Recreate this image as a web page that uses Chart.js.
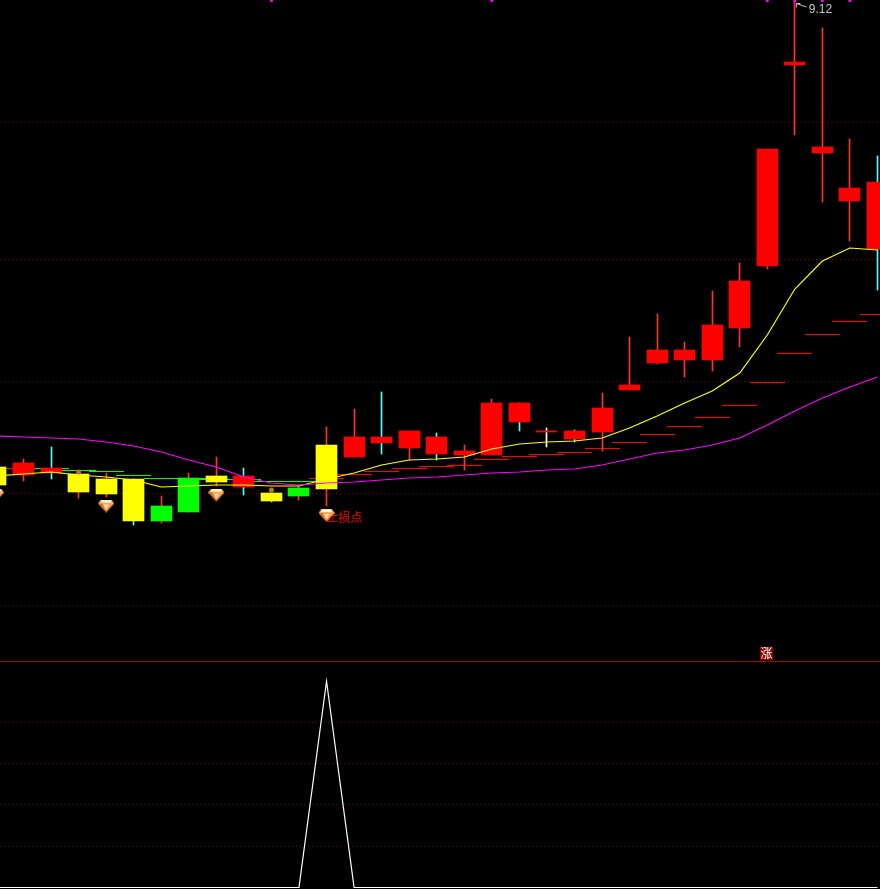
<!DOCTYPE html>
<html><head><meta charset="utf-8">
<style>
html,body{margin:0;padding:0;background:#000;overflow:hidden}
canvas{display:block}
#lower{border-top:1px solid #a00a0a;width:880px;height:227px}
</style>
<script src="https://cdn.jsdelivr.net/npm/chart.js@4/dist/chart.umd.js"></script>
</head><body>
<canvas id="main" width="880" height="661"></canvas>
<div id="lower"><canvas id="sub" width="880" height="227"></canvas></div>
<script>
const days=[0,1,2,3,4,5,6,7,8,9,10,11,12,13,14,15,16,17,18,19,20,21,22,23,24,25,26,27,28,29,30,31,32];
const bodyTop=[4.46,4.50,4.45,4.39,4.34,4.34,4.07,4.35,4.37,4.37,4.20,4.25,4.68,4.76,4.76,4.82,4.76,4.62,5.10,5.10,4.82,4.82,5.05,5.28,5.63,5.63,5.88,6.32,7.64,8.51,7.66,7.25,7.31];
const bodyBottom=[4.28,4.38,4.40,4.21,4.19,3.92,3.92,4.01,4.31,4.26,4.12,4.17,4.24,4.56,4.70,4.65,4.59,4.58,4.58,4.91,4.81,4.74,4.81,5.23,5.50,5.53,5.53,5.85,6.47,8.48,7.60,7.12,6.64];
const wickHigh=[4.46,4.54,4.66,4.39,4.40,4.34,4.17,4.40,4.56,4.45,4.20,4.28,4.86,5.04,5.21,4.82,4.80,4.68,5.14,5.10,4.85,4.83,5.20,5.76,5.99,5.71,6.22,6.50,7.64,9.12,8.85,7.74,7.57];
const wickLow=[4.28,4.32,4.34,4.15,4.16,3.88,3.90,4.01,4.27,4.18,4.11,4.13,4.07,4.56,4.59,4.53,4.53,4.43,4.58,4.82,4.66,4.71,4.62,5.23,5.49,5.36,5.42,5.66,6.44,7.78,7.11,6.72,6.23];
const bodyKind="yrryyyggyrygyrrrrrrrrrrrrrrrrrrrr".split("");
const wickKind="rrcrrcrrrccrrrcrcrrcwcrrrrrrrrrrc".split("");
const stepLine=[null,4.45,4.45,4.43,4.42,4.38,4.35,4.35,4.34,4.34,4.32,4.32,4.35,4.39,4.42,4.45,4.47,4.48,4.54,4.57,4.59,4.61,4.65,4.71,4.79,4.87,4.96,5.08,5.31,5.60,5.79,5.92,5.99];
const stepKind="rrggggggggggrrrrrrrrrrrrrrrrrrrrr".split("");
const yellowLine=[4.37,4.39,4.41,4.38,4.36,4.33,4.26,4.27,4.28,4.28,4.27,4.27,4.34,4.40,4.48,4.53,4.54,4.56,4.64,4.69,4.71,4.72,4.75,4.85,4.97,5.10,5.22,5.40,5.78,6.24,6.52,6.65,6.63];
const magentaLine=[4.77,4.76,4.75,4.74,4.71,4.67,4.61,4.53,4.46,4.36,4.30,4.28,4.30,4.31,4.33,4.35,4.36,4.38,4.40,4.41,4.43,4.44,4.48,4.54,4.60,4.63,4.68,4.75,4.88,5.02,5.15,5.26,5.36];
const signal=[0,0,0,0,0,0,0,0,0,0,0,0,1,0,0,0,0,0,0,0,0,0,0,0,0,0,0,0,0,0,0,0,0];
const topMarkDays=[10,18,28,29,30,31];
const gemDays=[0,4,8,12];
const gemValues=[4.18,4.07,4.18,3.975];
const glowDays=[3,10];
const glowValues=[4.41,4.23];
const mainTicks=[7.91,6.54,5.32,4.20,3.08];
const subTicks=[0.2,0.4,0.6,0.8];
const stopLabel="止损点";
const highLabel="9.12";
const riseLabel="涨";

const palette={r:"#ff0000",y:"#ffff00",g:"#00ff00"};
const wickPalette={r:"#ff3232",c:"#54fcfc",w:"#ffffff"};
const gridColor="#800000";
const xRange={min:0.147,max:32.091};

const gem=document.createElement("canvas");gem.width=16;gem.height=13;
(function(){const c=gem.getContext("2d");
 c.beginPath();c.moveTo(3,0);c.lineTo(13,0);c.lineTo(16,4);c.lineTo(8,13);c.lineTo(0,4);c.closePath();
 const g=c.createLinearGradient(0,0,0,13);g.addColorStop(0,"#ffe4b8");g.addColorStop(.3,"#f6a860");g.addColorStop(1,"#e87018");
 c.fillStyle=g;c.fill();
 c.fillStyle="#fff3dc";c.fillRect(3,1,10,2);
 c.fillStyle="#ffd9a8";c.beginPath();c.moveTo(5,5);c.lineTo(11,5);c.lineTo(8,11);c.closePath();c.fill();
 c.fillStyle="#d9640f";c.beginPath();c.moveTo(1,4);c.lineTo(4,4);c.lineTo(7,10);c.closePath();c.fill();
})();

const pts=a=>a.map((v,i)=>({x:days[i],y:v}));
const snap={id:"snap",afterDatasetsUpdate(ch){
 ch.data.datasets.forEach((d,n)=>{
  const m=ch.getDatasetMeta(n);
  if(m.type==="bar")m.data.forEach(e=>{e.x=Math.floor(e.x)+.5;e.y=Math.round(e.y);e.base=Math.round(e.base);});
  if(d.snapStep)m.data.forEach(e=>{e.x=Math.floor(e.x)+.5;e.y=Math.round(e.y)+.5;});
 });
}};
const texts={id:"texts",beforeDatasetsDraw(ch){
 const c=ch.ctx,x=ch.scales.x,y=ch.scales.y;c.save();
 c.textBaseline="middle";c.textAlign="left";
 c.fillStyle="#ff0000";c.font='12px "Noto Sans CJK SC"';
 c.fillText(stopLabel,x.getPixelForValue(12),y.getPixelForValue(3.955));
 const bx=x.getPixelForValue(28)-7.5,by=y.getPixelForValue(2.66);
 c.fillStyle="#8b0000";c.fillRect(Math.round(bx),Math.round(by),13,13);
 c.fillStyle="#ffffff";c.textAlign="center";c.font='12px "Noto Sans CJK SC"';
 c.fillText(riseLabel,Math.round(bx)+6.5,Math.round(by)+6.5);
 c.restore();
},afterDatasetsDraw(ch){
 const c=ch.ctx,x=ch.scales.x,y=ch.scales.y;c.save();
 const hx=x.getPixelForValue(29),hy=y.getPixelForValue(9.12);
 c.strokeStyle="#c8c8c8";c.lineWidth=1;
 c.beginPath();c.moveTo(hx+1.5,hy+2.5);c.lineTo(hx+11.5,hy+6);
 c.moveTo(hx+1.5,hy+2.5);c.lineTo(hx+5.5,hy+2.5);c.moveTo(hx+1.5,hy+2.5);c.lineTo(hx+1.5,hy+6.5);c.stroke();
 c.fillStyle="#c8c8c8";c.font='12px "Liberation Sans"';c.textAlign="left";c.textBaseline="alphabetic";
 c.fillText(highLabel,hx+14,hy+12);
 c.restore();
}};
const hiddenX=Object.assign({type:"linear",display:false,offset:false,grid:{display:false,offset:false}},xRange);
const yScale=(min,max,tickList)=>({type:"linear",min,max,position:"left",
 afterBuildTicks(s){s.ticks=tickList.map(v=>({value:v}));},
 afterFit(s){s.width=0;},
 ticks:{display:false},border:{display:false,dash:[1,3]},
 grid:{color:gridColor,lineWidth:1,drawTicks:false}});
const common={responsive:false,animation:false,events:[],devicePixelRatio:1,
 layout:{padding:0,autoPadding:false},plugins:{legend:{display:false},tooltip:{enabled:false}}};

new Chart(document.getElementById("main"),{type:"bar",
 data:{datasets:[
  {type:"line",label:"step",snapStep:true,order:10,showLine:false,data:pts(stepLine),pointStyle:"line",pointRadius:17.5,pointBorderWidth:1,
   pointBorderColor:stepKind.map(k=>palette[k])},
  {label:"wick",order:9,grouped:false,barThickness:1,data:days.map((d,i)=>({x:d,y:[wickLow[i],wickHigh[i]]})),backgroundColor:wickKind.map(k=>wickPalette[k])},
  {label:"body",order:8,grouped:false,barThickness:21,data:days.map((d,i)=>({x:d,y:[bodyBottom[i],bodyTop[i]]})),backgroundColor:bodyKind.map(k=>palette[k])},
  {type:"line",label:"yellow",order:4,data:pts(yellowLine),borderColor:"#ffff00",borderWidth:1.2,pointRadius:0,tension:0},
  {type:"line",label:"magenta",order:3,data:pts(magentaLine),borderColor:"#ff00ff",borderWidth:1.2,pointRadius:0,tension:0},
  {type:"line",label:"top",order:2,showLine:false,data:topMarkDays.map(d=>({x:d,y:9.125})),pointStyle:"rect",pointRadius:2,pointBorderWidth:0,pointBackgroundColor:"#ff00ff"},
  {type:"line",label:"glow",order:2,showLine:false,data:glowDays.map((d,i)=>({x:d,y:glowValues[i]})),pointStyle:"circle",pointRadius:2.5,pointBorderWidth:0,pointBackgroundColor:"#b87428"},
  {type:"line",label:"gem",order:1,showLine:false,data:gemDays.map((d,i)=>({x:d,y:gemValues[i]})),pointStyle:gem,pointRadius:8}
 ]},
 options:Object.assign({},common,{scales:{x:hiddenX,y:yScale(2.52,9.13,mainTicks)}}),
 plugins:[snap,texts]});

new Chart(document.getElementById("sub"),{type:"line",
 data:{datasets:[{label:"signal",data:pts(signal),borderColor:"#ffffff",borderWidth:1.2,pointRadius:0,tension:0}]},
 options:Object.assign({},common,{scales:{x:hiddenX,y:yScale(-0.0073,1.0933,subTicks)}})});
</script>
</body></html>
